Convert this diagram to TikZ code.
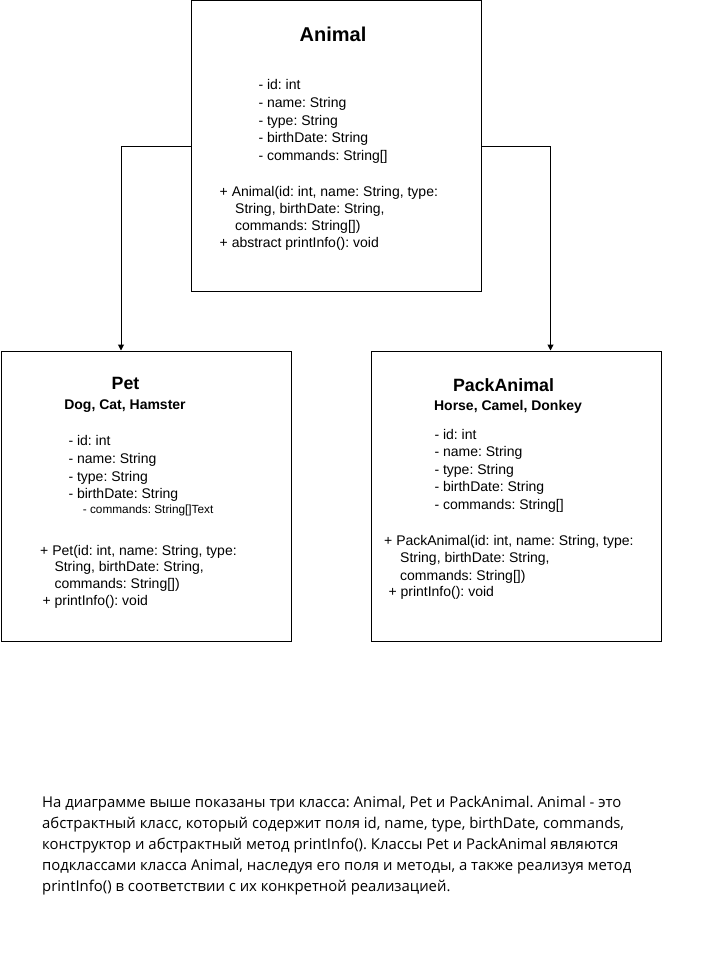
\documentclass[tikz,border=0pt]{standalone}
\usepackage{fontspec}
\setmainfont{Liberation Sans}
\newfontfamily\bodyfont{Open Sans}
\usetikzlibrary{arrows.meta}
\frenchspacing
\tikzset{
  classbox/.style={draw, line width=1pt, minimum width=290pt, minimum height=290pt, anchor=north west, inner sep=0},
  ln/.style={anchor=base west, inner sep=0, font=\fontsize{14}{17}\selectfont},
  smallln/.style={anchor=base west, inner sep=0, font=\fontsize{11.8}{14}\selectfont},
  ttl/.style={anchor=base, inner sep=0, font=\bfseries\fontsize{20}{24}\selectfont},
  ttlb/.style={anchor=base, inner sep=0, font=\bfseries\fontsize{17.8}{21}\selectfont},
  subttl/.style={anchor=base, inner sep=0, font=\bfseries\fontsize{14}{17}\selectfont},
  para/.style={anchor=base west, inner sep=0, font=\bodyfont\fontsize{14.9}{21}\selectfont},
  conn/.style={draw, line width=1pt, -{Triangle[width=6pt,length=6pt]}}
}
\begin{document}
\begin{tikzpicture}[x=1pt,y=-1pt]
\useasboundingbox (0,0) rectangle (711,971);
% boxes
\node[classbox] (animal) at (190.5,0.5) {};
\node[classbox] (pet) at (0.5,350.5) {};
\node[classbox] (pack) at (370.5,350.5) {};
% connectors
\coordinate (petin) at ([xshift=-25pt]pet.north);
\coordinate (packin) at ([xshift=34.5pt]pack.north);
\draw[conn] (animal.west) -| (petin);
\draw[conn] (animal.east) -| (packin);
% Animal
\node[ttl] (animalT) at (333,42) {Animal};
\node[ln] (a1) at (258.3,90) {- id: int};
\node[ln] (a2) at (258.3,107.5) {- name: String};
\node[ln] (a3) at (258.3,125) {- type: String};
\node[ln] (a4) at (258.3,142.5) {- birthDate: String};
\node[ln] (a5) at (258.3,160) {- commands: String[]};
\node[ln] (am1) at (219.5,196) {+ Animal(id: int, name: String, type:};
\node[ln] (am2) at (235,213.3) {String, birthDate: String,};
\node[ln] (am3) at (235,230.5) {commands: String[])};
\node[ln] (am4) at (219.5,247) {+ abstract printInfo(): void};
% Pet
\node[ttlb] (petT) at (125.5,389.5) {Pet};
\node[subttl] (petS) at (125,409.3) {Dog, Cat, Hamster};
\node[ln] (p1) at (68.3,445.7) {- id: int};
\node[ln] (p2) at (68.3,463.3) {- name: String};
\node[ln] (p3) at (68.3,481) {- type: String};
\node[ln] (p4) at (68.3,498.7) {- birthDate: String};
\node[smallln] (p5) at (82.7,513.3) {- commands: String[]Text};
\node[ln] (pm1) at (40,555) {+ Pet(id: int, name: String, type:};
\node[ln] (pm2) at (54.3,571.7) {String, birthDate: String,};
\node[ln] (pm3) at (54.3,588.3) {commands: String[])};
\node[ln] (pm4) at (42.3,605) {+ printInfo(): void};
% PackAnimal
\node[ttlb] (packT) at (503.5,391.7) {PackAnimal};
\node[subttl] (packS) at (508,410.7) {Horse, Camel, Donkey};
\node[ln] (k1) at (434.3,439.3) {- id: int};
\node[ln] (k2) at (434.3,456.7) {- name: String};
\node[ln] (k3) at (434.3,474) {- type: String};
\node[ln] (k4) at (434.3,491.7) {- birthDate: String};
\node[ln] (k5) at (434.3,509.3) {- commands: String[]};
\node[ln] (km1) at (384,545) {+ PackAnimal(id: int, name: String, type:};
\node[ln] (km2) at (400,562.7) {String, birthDate: String,};
\node[ln] (km3) at (400,580) {commands: String[])};
\node[ln] (km4) at (388.3,596.7) {+ printInfo(): void};
% paragraph
\node[para] (t1) at (42,807.5) {На диаграмме выше показаны три класса: Animal, Pet и PackAnimal. Animal - это};
\node[para] (t2) at (42,828.5) {абстрактный класс, который содержит поля id, name, type, birthDate, commands,};
\node[para] (t3) at (42,849.5) {конструктор и абстрактный метод printInfo(). Классы Pet и PackAnimal являются};
\node[para] (t4) at (42,870.5) {подклассами класса Animal, наследуя его поля и методы, а также реализуя метод};
\node[para] (t5) at (42,891.5) {printInfo() в соответствии с их конкретной реализацией.};
\end{tikzpicture}
\end{document}
